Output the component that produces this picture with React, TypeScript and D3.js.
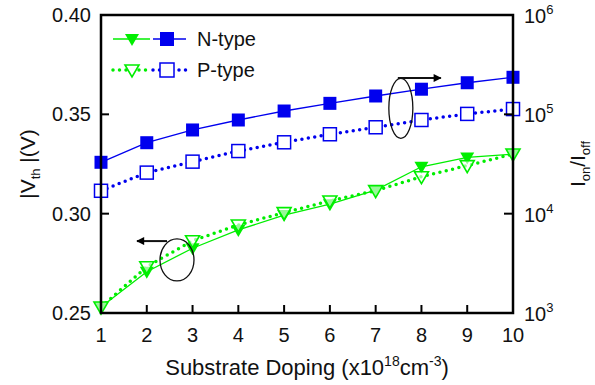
import { scaleLinear, scaleLog, line } from "d3";

// substrate doping (x10^18 cm^-3)
const doping = [1, 2, 3, 4, 5, 6, 7, 8, 9, 10];
// |Vth| (V), left axis
const vthN = [0.253, 0.2708, 0.2826, 0.2918, 0.2993, 0.3048, 0.3119, 0.3236, 0.3283, 0.33];
const vthP = [0.253, 0.2733, 0.2864, 0.2943, 0.3005, 0.3064, 0.3116, 0.3186, 0.3242, 0.33];
// Ion/Ioff, right axis
const ratioN = [32900, 51800, 69600, 87700, 108000, 129000, 153000, 179000, 208000, 236000];
const ratioP = [17000, 25900, 33400, 42700, 52300, 63000, 74100, 87700, 101000, 113000];

const vthTicks = [0.25, 0.3, 0.35, 0.4];
const ratioExp = [3, 4, 5, 6];
const seriesNames = ["N-type", "P-type"];

const GREEN = "#00ee00";
const BLUE = "#0000ee";
const FONT = "Liberation Sans, Arial, sans-serif";

const W = 595;
const H = 385;
const m = { left: 101, right: 513, top: 15, bottom: 313 };

const tri = "M-7,-5L7,-5L0,7Z";

export default function App() {
  const x = scaleLinear().domain([1, 10]).range([m.left, m.right]);
  const yL = scaleLinear().domain([0.25, 0.4]).range([m.bottom, m.top]);
  const yR = scaleLog().domain([1e3, 1e6]).range([m.bottom, m.top]);

  const vLine = line<number>()
    .x((_, i) => x(doping[i]))
    .y((v) => yL(v));
  const rLine = line<number>()
    .x((_, i) => x(doping[i]))
    .y((v) => yR(v));

  const dotted = { strokeWidth: 3.5, strokeDasharray: "0 6.5", strokeLinecap: "round" as const };

  // annotation anchors in data coords
  const e1 = { cx: x(7.55), cy: yR(1.15e5) };
  const a1y = yR(2.32e5);
  const e2 = { cx: x(2.66), cy: yL(0.2767) };
  const a2y = yL(0.2862);

  return (
    <svg
      width={W}
      height={H}
      style={{ position: "absolute", left: 0, top: 0, background: "#fff" }}
      fontFamily={FONT}
    >
      <defs>
        <marker id="ah" viewBox="0 0 10 10" refX="9" refY="5" markerWidth="10" markerHeight="8" markerUnits="userSpaceOnUse" orient="auto">
          <path d="M0,0L10,5L0,10Z" fill="#000" />
        </marker>
      </defs>

      {/* ion/ioff lines */}
      <path d={rLine(ratioN) || ""} fill="none" stroke={BLUE} strokeWidth={1.3} />
      <path d={rLine(ratioP) || ""} fill="none" stroke={BLUE} {...dotted} />
      {/* vth lines */}
      <path d={vLine(vthN) || ""} fill="none" stroke={GREEN} strokeWidth={1.3} />
      <path d={vLine(vthP) || ""} fill="none" stroke={GREEN} {...dotted} />

      {ratioN.map((v, i) => (
        <rect key={"rn" + i} x={x(doping[i]) - 6.5} y={yR(v) - 6.5} width={13} height={13} fill={BLUE} />
      ))}
      {ratioP.map((v, i) => (
        <rect key={"rp" + i} x={x(doping[i]) - 6.5} y={yR(v) - 6.5} width={13} height={13} fill="#fff" stroke={BLUE} strokeWidth={1.5} />
      ))}
      {vthN.map((v, i) => (
        <path key={"vn" + i} d={tri} transform={`translate(${x(doping[i])},${yL(v)})`} fill={GREEN} />
      ))}
      {vthP.map((v, i) => (
        <path key={"vp" + i} d={tri} transform={`translate(${x(doping[i])},${yL(v)})`} fill="#fff" fillOpacity={0.6} stroke={GREEN} strokeWidth={1.6} />
      ))}

      {/* frame */}
      <rect x={m.left} y={m.top} width={m.right - m.left} height={m.bottom - m.top} fill="none" stroke="#000" strokeWidth={2.5} />

      {/* bottom axis */}
      {doping.map((d) => (
        <g key={"xt" + d}>
          {d > 1 && d < 10 && <line x1={x(d)} x2={x(d)} y1={m.bottom} y2={m.bottom - 8} stroke="#000" strokeWidth={2} />}
          <text x={x(d)} y={m.bottom + 29} textAnchor="middle" fontSize={20} fill="#111">
            {d}
          </text>
        </g>
      ))}
      <text x={307} y={375} textAnchor="middle" fontSize={22} fill="#111">
        Substrate Doping (x10
        <tspan fontSize={14} dy={-9}>18</tspan>
        <tspan dy={9}>cm</tspan>
        <tspan fontSize={14} dy={-9}>-3</tspan>
        <tspan dy={9}>)</tspan>
      </text>

      {/* left axis */}
      {vthTicks.map((t) => (
        <g key={"yl" + t}>
          {t > 0.25 && t < 0.4 && <line x1={m.left} x2={m.left + 8} y1={yL(t)} y2={yL(t)} stroke="#000" strokeWidth={2} />}
          <text x={m.left - 10} y={yL(t) + 7} textAnchor="end" fontSize={20} fill="#111">
            {t.toFixed(2)}
          </text>
        </g>
      ))}
      <text transform={`translate(35,${(m.top + m.bottom) / 2}) rotate(-90)`} textAnchor="middle" fontSize={21} fill="#111">
        |V<tspan fontSize={13} dy={5}>th</tspan>
        <tspan dy={-5}> |(V)</tspan>
      </text>

      {/* right axis */}
      {ratioExp.map((e) => (
        <g key={"yr" + e}>
          {e > 3 && e < 6 && <line x1={m.right} x2={m.right - 9} y1={yR(10 ** e)} y2={yR(10 ** e)} stroke="#000" strokeWidth={2} />}
          <text x={m.right + 11} y={yR(10 ** e) + 8} fontSize={20} fill="#111">
            10<tspan fontSize={13} dy={-9}>{e}</tspan>
          </text>
        </g>
      ))}
      <text transform={`translate(585,${(m.top + m.bottom) / 2}) rotate(-90)`} textAnchor="middle" fontSize={21} fill="#111">
        I<tspan fontSize={13} dy={5}>on</tspan>
        <tspan dy={-5}>/I</tspan>
        <tspan fontSize={13} dy={5}>off</tspan>
      </text>

      {/* legend */}
      {seriesNames.map((name, i) => {
        const ly = 39 + i * 31;
        const ls = i === 0 ? { strokeWidth: 1.3 } : dotted;
        return (
          <g key={name}>
            <line x1={113} x2={150} y1={ly} y2={ly} stroke={GREEN} {...ls} />
            <line x1={153} x2={186} y1={ly} y2={ly} stroke={BLUE} {...ls} />
            <path d={tri} transform={`translate(132,${ly})`} fill={i === 0 ? GREEN : "#fff"} stroke={i === 0 ? "none" : GREEN} strokeWidth={1.6} />
            <rect x={160} y={ly - 7} width={14} height={14} fill={i === 0 ? BLUE : "#fff"} stroke={i === 0 ? "none" : BLUE} strokeWidth={1.5} />
            <text x={197} y={ly + 7} fontSize={20} fill="#111">
              {name}
            </text>
          </g>
        );
      })}

      {/* annotations */}
      <ellipse cx={e1.cx} cy={e1.cy} rx={12} ry={30} fill="none" stroke="#111" strokeWidth={1.3} />
      <line x1={e1.cx - 3} x2={e1.cx + 40} y1={a1y} y2={a1y} stroke="#111" strokeWidth={2} markerEnd="url(#ah)" />
      <ellipse cx={e2.cx} cy={e2.cy} rx={17} ry={21} fill="none" stroke="#111" strokeWidth={1.3} />
      <line x1={e2.cx - 10} x2={e2.cx - 40} y1={a2y} y2={a2y} stroke="#111" strokeWidth={2} markerEnd="url(#ah)" />
    </svg>
  );
}
